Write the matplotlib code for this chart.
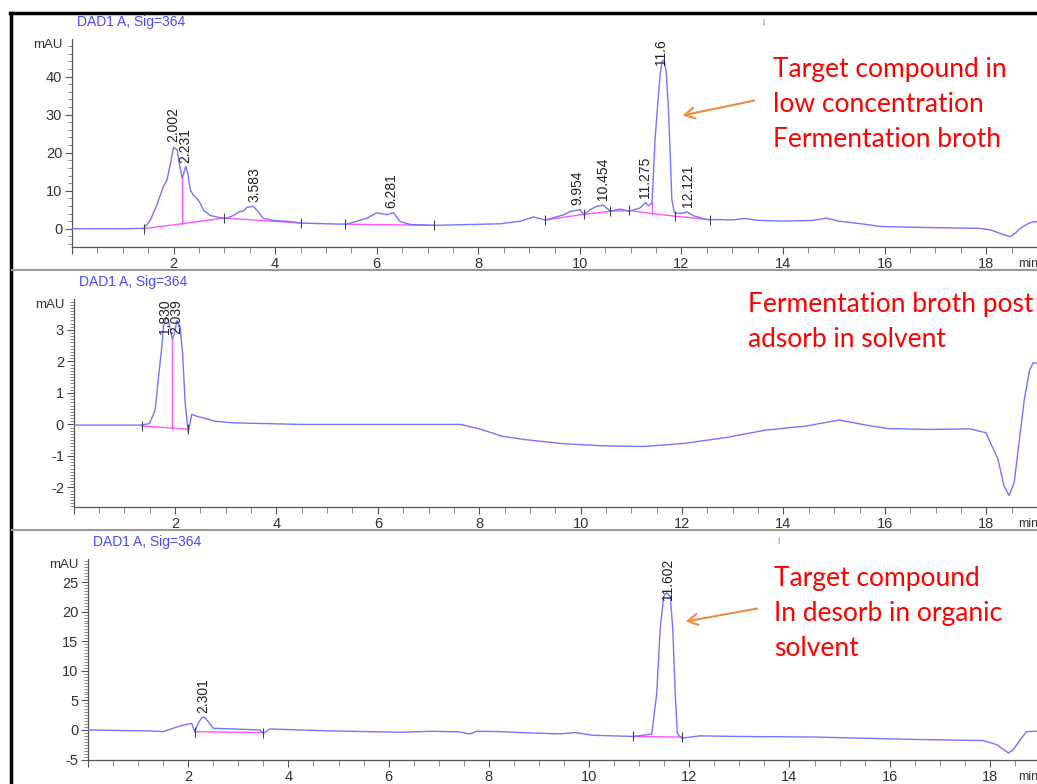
import matplotlib.pyplot as plt
import numpy as np
from matplotlib.lines import Line2D
from matplotlib.patches import FancyArrowPatch
from matplotlib.ticker import MultipleLocator

plt.rcParams['font.family'] = ['Liberation Sans', 'DejaVu Sans']

# ---- panel 1: fermentation broth ----
t1 = [0, 1.0, 1.41, 1.54, 1.67, 1.80, 1.87, 1.94, 2.0, 2.07, 2.11, 2.17, 2.20, 2.24, 2.28,
      2.33, 2.39, 2.46, 2.53, 2.59, 2.72, 2.92, 3.05, 3.18, 3.28, 3.38, 3.44, 3.57, 3.67,
      3.77, 3.97, 4.36, 4.49, 5.02, 5.41, 5.81, 6.0, 6.2, 6.33, 6.46, 6.66, 7.12, 7.78,
      8.43, 8.83, 9.09, 9.32, 9.69, 9.82, 10.01, 10.07, 10.2, 10.33, 10.46, 10.60, 10.79,
      10.96, 11.19, 11.29, 11.35, 11.42, 11.48, 11.55, 11.58, 11.62, 11.66, 11.70, 11.74,
      11.78, 11.81, 11.86, 11.97, 12.11, 12.24, 12.5, 12.76, 13.0, 13.25, 13.5, 14.0, 14.6,
      14.85, 15.1, 15.6, 15.91, 16.5, 17.88, 18.08, 18.27, 18.47, 18.57, 18.67, 18.83,
      18.93, 19.0]
y1 = [0, 0, 0.1, 2.2, 6.2, 11.1, 12.8, 17.3, 21.4, 20.8, 17.3, 13.3, 14.6, 16.4, 14.6,
      10.2, 8.8, 8.0, 6.6, 4.9, 3.5, 2.9, 2.8, 3.5, 4.4, 4.7, 5.6, 5.9, 4.4,
      2.7, 2.2, 1.8, 1.5, 1.3, 1.2, 2.8, 4.2, 3.7, 4.2, 1.9, 1.1, 0.9, 1.1,
      1.3, 2.0, 3.1, 2.3, 3.7, 4.6, 5.0, 3.7, 5.0, 5.9, 6.2, 4.6, 5.2,
      4.6, 5.5, 6.9, 6.0, 6.8, 23.5, 35.9, 40.5, 44.0, 44.5, 41.0, 32.4,
      19.1, 7.7, 4.2, 4.0, 4.4, 3.4, 2.4, 2.4, 2.3, 2.7, 2.2, 2.0, 2.2,
      2.8, 2.0, 1.2, 0.6, 0.4, 0.1, -0.3, -1.2, -2.1, -1.2, 0.1, 1.4,
      1.8, 1.9]
base1_t = [1.41, 3.0, 4.5, np.nan, 5.38, 7.12, np.nan, 9.32, 10.08, 10.6, 10.96, 11.42, 11.87, 12.57]
base1_y = [0.0, 2.8, 1.5, np.nan, 1.2, 0.9, np.nan, 2.3, 3.8, 4.6, 4.8, 4.0, 3.3, 2.4]
drop1_t = [2.17, 11.42]
cuts1 = [1.41, 3.0, 4.5, 5.38, 7.12, 9.32, 10.08, 10.6, 10.96, 11.87, 12.57]
peaks1 = ["2.002", "2.231", "3.583", "6.281", "9.954", "10.454", "11.275", "11.6", "12.121"]
rt1 = [2.002, 2.231, 3.583, 6.281, 9.954, 10.454, 11.275, 11.6, 12.121]

# ---- panel 2: broth after adsorption ----
t2 = [0, 1.34, 1.50, 1.61, 1.67, 1.74, 1.77, 1.82, 1.87, 1.92, 1.95, 1.99, 2.04, 2.10,
      2.15, 2.20, 2.26, 2.33, 2.43, 2.80, 3.15, 4.5, 7.64, 8.04, 8.44, 8.84, 9.65, 10.45,
      11.25, 12.05, 12.85, 13.65, 14.45, 15.10, 15.66, 16.06, 16.87, 17.67, 17.99, 18.23,
      18.35, 18.45, 18.55, 18.67, 18.75, 18.85, 18.92, 19.0]
y2 = [-0.02, -0.02, 0.03, 0.47, 1.42, 2.47, 3.1, 3.4, 3.3, 2.9, 2.7, 2.9, 3.3, 3.1,
      2.25, 0.68, -0.26, 0.32, 0.26, 0.1, 0.05, 0.0, 0.0, -0.16, -0.37, -0.47, -0.61, -0.68,
      -0.70, -0.60, -0.42, -0.18, -0.05, 0.14, -0.03, -0.13, -0.16, -0.14, -0.26, -1.1,
      -1.95, -2.26, -1.84, -0.26, 0.79, 1.7, 1.95, 1.95]
base2_t = [1.34, 2.26]
base2_y = [-0.05, -0.15]
drop2_t = [1.95]
cuts2 = [1.34, 2.26]
peaks2 = ["1.830", "2.039"]
rt2 = [1.80, 2.03]

# ---- panel 3: desorbed in organic solvent ----
t3 = [0, 1.24, 1.50, 1.70, 1.83, 2.0, 2.07, 2.13, 2.20, 2.27, 2.33, 2.40, 2.50, 2.90, 3.43,
      3.50, 3.63, 4.23, 4.89, 6.22, 6.89, 7.42, 7.62, 7.76, 8.22, 8.62, 9.42, 9.72, 10.08,
      10.88, 11.25, 11.35, 11.42, 11.49, 11.55, 11.62, 11.67, 11.72, 11.76, 11.85, 12.21,
      13.0, 14.5, 15.5, 16.5, 17.87, 18.14, 18.37, 18.47, 18.6, 18.73, 18.95]
y3 = [0, -0.17, -0.28, 0.28, 0.67, 1.0, 1.1, -0.28, 1.1, 2.1, 2.1, 1.4, 0.28, 0.17, 0,
      -0.56, 0.17, 0, -0.17, -0.39, -0.22, -0.33, -0.67, -0.22, -0.28, -0.44, -0.67, -0.44, -0.9,
      -1.1, -0.7, 6.1, 17.2, 22.6, 23.2, 22.6, 17.2, 6.1, -0.56, -1.4, -1.0,
      -1.1, -1.2, -1.4, -1.6, -1.8, -2.5, -3.9, -3.3, -1.7, -0.3, -0.2]
base3_t = [2.13, 3.5, np.nan, 10.88, 11.85]
base3_y = [-0.3, -0.45, np.nan, -1.1, -1.2]
drop3_t = []
cuts3 = [2.13, 3.5, 10.88, 11.85]
peaks3 = ["2.301", "11.602"]
rt3 = [2.30, 11.58]

notes = ["Target compound in\nlow concentration\nFermentation broth",
         "Fermentation broth post\nadsorb in solvent",
         "Target compound\nIn desorb in organic\nsolvent"]

W, H = 1037, 784
trace_c = '#7474ff'
base_c = '#ff55ff'
fig = plt.figure(figsize=(W / 100, H / 100), dpi=100)


def rect(left, top, bottom):
    return [left / W, 1 - bottom / H, 1 - left / W, (bottom - top) / H]


panels = [
    dict(t=t1, y=y1, bt=base1_t, by=base1_y, drops=drop1_t, cuts=cuts1, names=peaks1, rts=rt1,
         rect=rect(72, 39, 247), xmax=19.0, ylim=(-4.8, 49.9), major=10, minor=2),
    dict(t=t2, y=y2, bt=base2_t, by=base2_y, drops=drop2_t, cuts=cuts2, names=peaks2, rts=rt2,
         rect=rect(73.6, 299, 507), xmax=19.0, ylim=(-2.62, 3.98), major=1, minor=0.1),
    dict(t=t3, y=y3, bt=base3_t, by=base3_y, drops=drop3_t, cuts=cuts3, names=peaks3, rts=rt3,
         rect=rect(88, 559, 760), xmax=18.94, ylim=(-5.08, 28.9), major=5, minor=0.5),
]

renderer = fig.canvas.get_renderer()
for p in panels:
    ax = fig.add_axes(p['rect'])
    t = np.array(p['t'])
    y = np.array(p['y'])
    ax.plot(t, y, color=trace_c, lw=1.0, zorder=3)
    bt = np.array(p['bt'])
    by = np.array(p['by'])
    ax.plot(bt, by, color=base_c, lw=1.0, zorder=2)
    ok = ~np.isnan(bt)
    for d in p['drops']:
        yb = np.interp(d, bt[ok], by[ok])
        ax.plot([d, d], [yb, np.interp(d, t, y)], color=base_c, lw=1.0, zorder=2)
    cy = np.interp(p['cuts'], bt[ok], by[ok])
    ax.plot(p['cuts'], cy, ls='none', marker='|', ms=7, mew=0.8, color='#444444', zorder=4)

    ax.set_xlim(0, p['xmax'])
    ax.set_ylim(*p['ylim'])
    for s in ['top', 'right']:
        ax.spines[s].set_visible(False)
    for s in ['left', 'bottom']:
        ax.spines[s].set_color('#555555')
        ax.spines[s].set_linewidth(0.9)
    ax.xaxis.set_major_locator(MultipleLocator(2))
    ax.xaxis.set_minor_locator(MultipleLocator(0.5))
    ax.yaxis.set_major_locator(MultipleLocator(p['major']))
    ax.yaxis.set_minor_locator(MultipleLocator(p['minor']))
    ax.xaxis.set_major_formatter(plt.FuncFormatter(lambda v, pos: '' if v == 0 else f'{v:g}'))
    ax.yaxis.set_major_formatter(plt.FuncFormatter(lambda v, pos: f'{v:g}'))
    ax.tick_params(which='major', length=5, width=0.8, color='#555555', labelsize=10.5,
                   labelcolor='#333333', pad=2)
    ax.tick_params(which='minor', length=3, width=0.6, color='#777777')
    ax.tick_params(axis='x', which='minor', length=4)
    ax.patch.set_alpha(0)

    ax.annotate('mAU', xy=(0, 1), xycoords='axes fraction', xytext=(-9, -6),
                textcoords='offset pixels', ha='right', va='center', fontsize=9.5, color='#333333')
    ax.annotate('DAD1 A, Sig=364', xy=(0, 1), xycoords='axes fraction', xytext=(5, 17),
                textcoords='offset pixels', ha='left', va='center', fontsize=10, color='#4848ff')
    ax.annotate('min', xy=(1, 0), xycoords='axes fraction', xytext=(-19, -17),
                textcoords='offset pixels', ha='left', va='center', fontsize=9, color='#333333',
                annotation_clip=False)

    ax_top = ax.get_window_extent(renderer).y1
    for name, rt in zip(p['names'], p['rts']):
        ann = ax.annotate(name, xy=(rt, np.interp(rt, t, y)), xytext=(0, 5),
                          textcoords='offset pixels', rotation=90, ha='center', va='bottom',
                          fontsize=10, color='#222222', zorder=5)
        bb = ann.get_window_extent(renderer)
        if bb.y1 > ax_top:
            ann.xyann = (0, 5 - (bb.y1 - ax_top))

# frame of the screenshot
fig.add_artist(Line2D([10 / W, 1], [1 - 13 / H] * 2, color='black', lw=2.5))
fig.add_artist(Line2D([11 / W] * 2, [0, 1 - 13 / H], color='black', lw=2.5))
for yy in [270, 530]:
    fig.add_artist(Line2D([12 / W, 1], [1 - yy / H] * 2, color='#9a9a9a', lw=1.5))

note_pos = [(773, 57), (748, 292), (774, 566)]
for txt, (nx, ny) in zip(notes, note_pos):
    fig.text(nx / W, 1 - ny / H, txt, color='#ff0000', fontsize=19, family='Lato',
             va='top', ha='left', linespacing=1.5)

arrows = [((757, 100), (680, 116)), ((760, 608), (683, 622))]
for (sx, sy), (ex, ey) in arrows:
    fig.add_artist(FancyArrowPatch(
        (sx / W, 1 - sy / H), (ex / W, 1 - ey / H), transform=fig.transFigure,
        arrowstyle='->,head_length=7,head_width=4', color='#ee8a3c', lw=1.5))

fig.text(763 / W, 1 - 22 / H, '|', color='#4848ff', fontsize=6, ha='center', va='center')
fig.text(778 / W, 1 - 541 / H, '|', color='#4848ff', fontsize=6, ha='center', va='center')

fig.savefig('out.png', dpi=100)
